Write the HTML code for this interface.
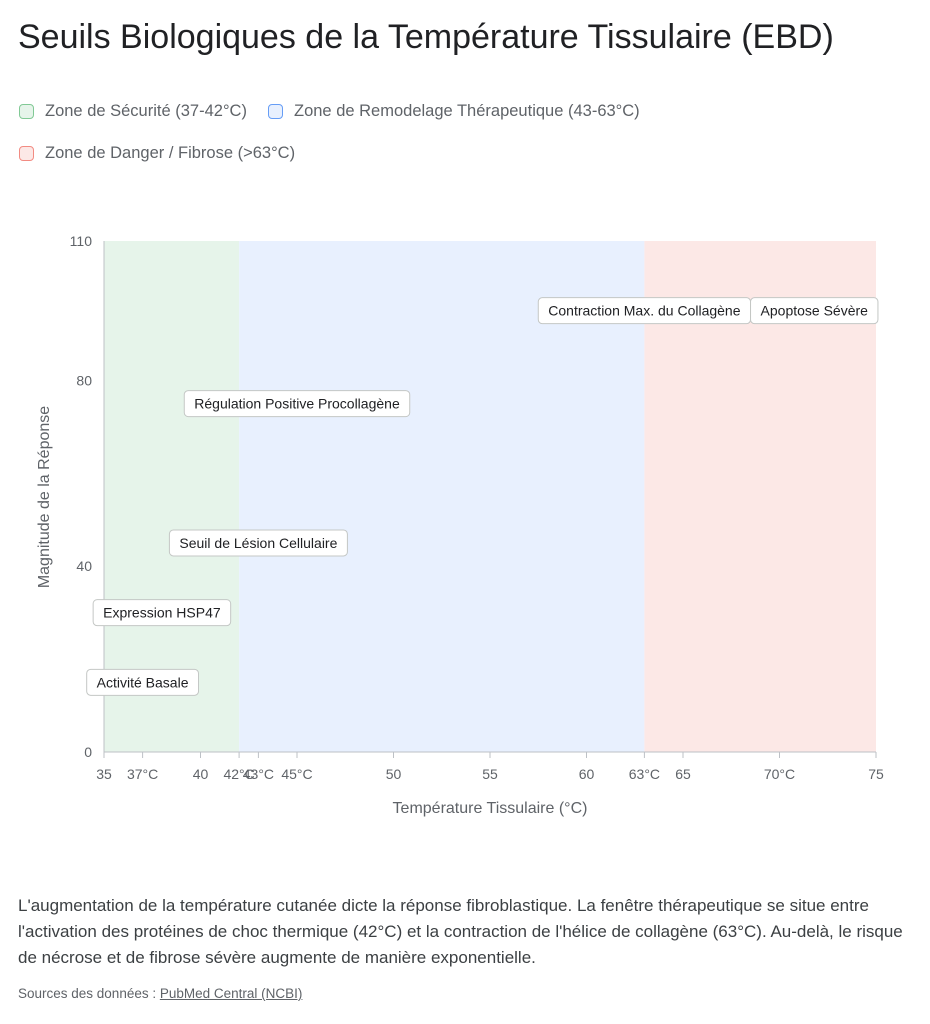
<!DOCTYPE html>
<html><head><meta charset="utf-8">
<style>
body{margin:0;background:#fff;font-family:"Liberation Sans",sans-serif;color:#3c4043;width:930px;height:1024px;overflow:hidden;position:relative}
h1{position:absolute;left:18px;top:18px;margin:0;font-weight:400;font-size:34px;color:#202124}
.leg{position:absolute;font-size:16.5px;color:#5f6368;display:flex;align-items:center}
.sw{width:15px;height:15px;border-radius:4px;margin-right:11px;box-sizing:border-box}
p{position:absolute;left:18px;top:893px;margin:0;width:895px;font-size:17px;line-height:26px;color:#3c4043}
.src{position:absolute;left:18px;top:986px;font-size:13.5px;color:#5f6368}
</style></head><body>
<h1>Seuils Biologiques de la Température Tissulaire (EBD)</h1>
<div class="leg" style="left:19px;top:102px"><div class="sw" style="background:#e6f4ea;border:1px solid #81c995"></div>Zone de Sécurité (37-42°C)</div>
<div class="leg" style="left:268px;top:102px"><div class="sw" style="background:#e8f0fe;border:1px solid #669df6"></div>Zone de Remodelage Thérapeutique (43-63°C)</div>
<div class="leg" style="left:19px;top:144px"><div class="sw" style="background:#fce8e6;border:1px solid #f28b82"></div>Zone de Danger / Fibrose (&gt;63°C)</div>
<svg id="chart" width="930" height="860" style="position:absolute;left:0;top:0" font-family="Liberation Sans, sans-serif"></svg>
<p>L'augmentation de la température cutanée dicte la réponse fibroblastique. La fenêtre thérapeutique se situe entre l'activation des protéines de choc thermique (42°C) et la contraction de l'hélice de collagène (63°C). Au-delà, le risque de nécrose et de fibrose sévère augmente de manière exponentielle.</p>
<div class="src">Sources des données : <u>PubMed Central (NCBI)</u></div>
<script>
const zoneStarts=[35,42,63];
const zoneEnds=[42,63,75];
const zoneColors=['#e6f4ea','#e8f0fe','#fce8e6'];
const xTicks=[35,37,40,42,43,45,50,55,60,63,65,70,75];
const xTickLabels=['35','37°C','40','42°C','43°C','45°C','50','55','60','63°C','65','70°C','75'];
const yTicks=[0,40,80,110];
const labels=['Activité Basale','Expression HSP47','Seuil de Lésion Cellulaire','Régulation Positive Procollagène','Contraction Max. du Collagène','Apoptose Sévère'];
const labelX=[37,38,43,45,63,71.8];
const labelY=[15,30,45,75,95,95];
const svg=document.getElementById('chart');
const NS='http://www.w3.org/2000/svg';
const x=v=>104+(v-35)*(772/40);
const y=v=>752-v*(511/110);
function mk(t,a){const e=document.createElementNS(NS,t);for(const k in a)e.setAttribute(k,a[k]);svg.appendChild(e);return e;}
zoneStarts.forEach((s,i)=>{const r=mk('rect',{x:x(s),y:y(110),width:x(zoneEnds[i])-x(s),height:y(0)-y(110),fill:zoneColors[i]});

});
const ax=mk('line',{x1:104,x2:876,y1:752,y2:752,stroke:'#bdc1c6'});


const ay=mk('line',{x1:104,x2:104,y1:241,y2:752,stroke:'#bdc1c6'});


xTicks.forEach((v,i)=>{mk('line',{x1:x(v),x2:x(v),y1:752,y2:758,stroke:'#bdc1c6'});
const t=mk('text',{x:x(v),y:779,'text-anchor':'middle','font-size':14,fill:'#5f6368'});t.textContent=xTickLabels[i];

});
yTicks.forEach(v=>{const t=mk('text',{x:92,y:y(v)+5,'text-anchor':'end','font-size':14,fill:'#5f6368'});t.textContent=v;

});
const xt=mk('text',{x:490,y:813,'text-anchor':'middle','font-size':16,fill:'#5f6368'});xt.textContent='Température Tissulaire (°C)';


const yt=mk('text',{x:0,y:0,'text-anchor':'middle','font-size':16,fill:'#5f6368',transform:'translate(49,497) rotate(-90)'});yt.textContent='Magnitude de la Réponse';


labels.forEach((s,i)=>{const g=document.createElementNS(NS,'g');svg.appendChild(g);


const t=document.createElementNS(NS,'text');t.setAttribute('font-size',14);t.setAttribute('fill','#202124');t.textContent=s;g.appendChild(t);
const w=t.getComputedTextLength()+20;const cx=x(labelX[i]),cy=y(labelY[i]);
const r=document.createElementNS(NS,'rect');r.setAttribute('x',cx-w/2);r.setAttribute('y',cy-13);r.setAttribute('width',w);r.setAttribute('height',26);r.setAttribute('rx',4);r.setAttribute('fill','#fff');r.setAttribute('stroke','#c4c7c5');
g.insertBefore(r,t);t.setAttribute('x',cx-w/2+10);t.setAttribute('y',cy+5);});
</script>
</body></html>
